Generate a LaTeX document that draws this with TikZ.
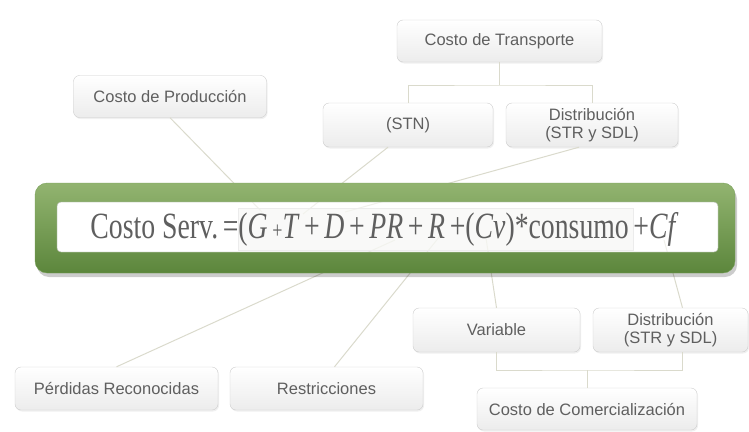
\documentclass[tikz,border=0pt]{standalone}
\usepackage{fontspec}
\usepackage{xcolor}
\usepackage{graphicx}
\setsansfont{Liberation Sans}
\newfontfamily\formfont{Liberation Serif}
\usetikzlibrary{shadows}

\definecolor{boxtext}{RGB}{95,95,95}
\definecolor{boxedge}{RGB}{205,205,205}
\definecolor{boxbot}{RGB}{236,236,236}
\definecolor{linkcol}{RGB}{218,218,204}
\definecolor{bandtop}{RGB}{146,180,112}
\definecolor{bandbot}{RGB}{92,134,60}
\definecolor{bandedge}{RGB}{120,160,90}
\definecolor{hilite}{RGB}{244,245,241}

\begin{document}
\begin{tikzpicture}[x=1pt,y=-1pt,
    concept/.style={draw=boxedge,rounded corners=6pt,top color=white,bottom color=boxbot,
      text=boxtext,font=\sffamily\fontsize{16.5}{17.5}\selectfont,align=center,inner sep=0pt,
      drop shadow={opacity=0.12,shadow xshift=1pt,shadow yshift=-1.5pt}},
    link/.style={draw=linkcol,line width=1pt}]
    \useasboundingbox (0,0) rectangle (749,431);

    \node[concept,minimum width=205pt,minimum height=42pt] (trans) at (499.5,41) {Costo de Transporte};
    \node[concept,minimum width=193pt,minimum height=42pt] (prod) at (170,96.5) {Costo de Producción};
    \node[concept,minimum width=170pt,minimum height=44pt] (stn) at (408,125) {(STN)};
    \node[concept,minimum width=172pt,minimum height=44pt] (distA) at (592,125) {Distribución\\(STR y SDL)};
    \node[concept,minimum width=167pt,minimum height=44pt] (var) at (496.5,330) {Variable};
    \node[concept,minimum width=155pt,minimum height=44pt] (distB) at (670.5,330) {Distribución\\(STR y SDL)};
    \node[concept,minimum width=203pt,minimum height=43pt] (perd) at (116.5,388.5) {Pérdidas Reconocidas};
    \node[concept,minimum width=193pt,minimum height=43pt] (restr) at (326.5,388.5) {Restricciones};
    \node[concept,minimum width=220pt,minimum height=42pt] (comer) at (587,409) {Costo de Comercialización};

    \coordinate (tj) at (499.5,85);
    \coordinate (cj) at (587,370);
    \draw[link] (trans.south) -- (tj);
    \draw[link] (stn.north) |- (tj) -| (distA.north);
    \draw[link] (var.south) |- (cj) -| ([xshift=12pt]distB.south);
    \draw[link] (cj) -- (comer.north);

    \coordinate (tG) at (262,212);
    \coordinate (tT) at (303,214);
    \coordinate (tD) at (345,212);
    \coordinate (tPR) at (395,240);
    \coordinate (tR) at (440,236);
    \coordinate (tCv) at (486,238);
    \coordinate (tCf) at (664,240);
    \draw[link] (prod.south) -- (tG);
    \draw[link] ([xshift=-20pt]stn.south) -- (tT);
    \draw[link] ([xshift=-13pt]distA.south) -- (tD);
    \draw[link] (perd.north) -- (tPR);
    \draw[link] ([xshift=8pt]restr.north) -- (tR);
    \draw[link] (var.north) -- (tCv);
    \draw[link] ([xshift=12pt]distB.north) -- (tCf);

    \fill[even odd rule,black,opacity=0.2,rounded corners=12pt]
      (37,187) rectangle (737,277) [rounded corners=4pt] (57,202) rectangle (718,252);
    \path[even odd rule,top color=bandtop,bottom color=bandbot,draw=bandedge,rounded corners=12pt]
      (35,183) rectangle (735,273) [rounded corners=4pt] (57,202) rectangle (718,252);
    \path[draw=gray!40,fill=white,fill opacity=0.6,rounded corners=4pt] (57,202) rectangle (718,252);
    \path[draw=gray!15,fill=hilite,fill opacity=0.5] (238,208) rectangle (633,250);
    \node[text=boxtext,inner sep=0pt] (form) at (384.5,229)
      {\scalebox{0.75}[1]{\formfont\fontsize{37}{40}\selectfont Costo Serv.\,=(\textit{G}\,{\fontsize{24}{24}\selectfont +}\textit{T}\,+\,\textit{D}\,+\,\textit{PR}\,+\,\textit{R}\,+(\textit{Cv})*consumo\,+\textit{Cf}}};
\end{tikzpicture}
\end{document}
